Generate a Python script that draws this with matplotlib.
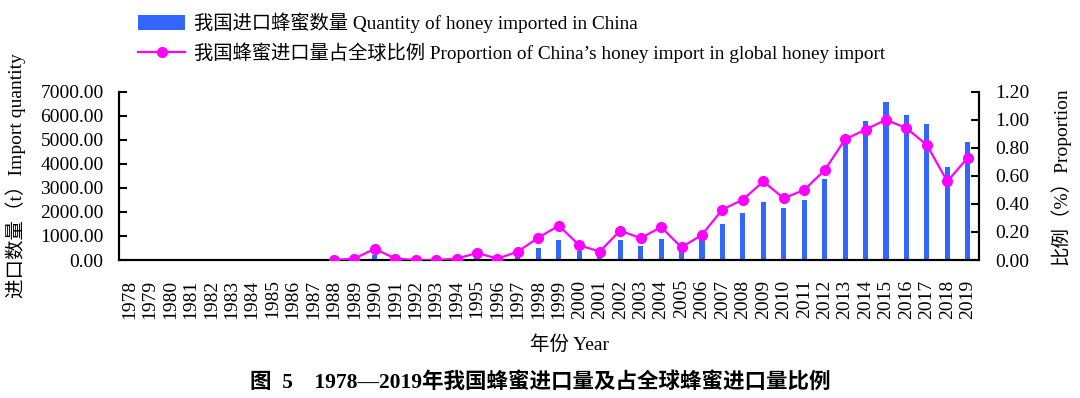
import numpy as np
import matplotlib
matplotlib.use('Agg')
import matplotlib.pyplot as plt
from matplotlib.patches import Patch
from matplotlib.lines import Line2D

years = list(range(1978, 2020))
# import quantity (t)
quantity = [0, 0, 0, 0, 0, 0, 0, 0, 0, 0,
            0, 0, 220, 0, 0, 0, 0, 140, 0, 220,
            520, 820, 360, 260, 820, 600, 890, 360, 820, 1500,
            1960, 2400, 2180, 2500, 3390, 4860, 5800, 6570, 6040, 5670,
            3850, 4900]
# share of global honey import (%), starts in 1988
prop_years = list(range(1988, 2020))
proportion = [0.0, 0.01, 0.08, 0.01, 0.0, 0.0, 0.01, 0.05, 0.01, 0.06,
              0.16, 0.245, 0.105, 0.06, 0.21, 0.155, 0.235, 0.09, 0.18, 0.36,
              0.43, 0.56, 0.44, 0.50, 0.64, 0.86, 0.93, 1.00, 0.94, 0.82,
              0.56, 0.73]

plt.rcParams['font.family'] = ['Liberation Serif', 'Noto Sans CJK SC']
plt.rcParams['axes.unicode_minus'] = False

BAR = '#3366ff'
LINE = '#ff00ff'

fig = plt.figure(figsize=(10.8, 3.98), dpi=100)
ax = fig.add_axes([0.110, 0.3467, 0.7965, 0.4229])
ax2 = ax.twinx()

x = np.arange(len(years))
ax.bar(x, quantity, width=0.25, color=BAR, zorder=2)
px = [years.index(y) for y in prop_years]
ax2.plot(px, proportion, color=LINE, linewidth=1.6, marker='o', markersize=7, zorder=3)

ax.set_xlim(-0.52, 41.55)
ax.set_ylim(0, 7000)
ax2.set_ylim(0, 1.2)
ax.set_yticks(np.arange(0, 7001, 1000))
ax.set_yticklabels([f'{v:.2f}' for v in np.arange(0, 7001, 1000)])
ax2.set_yticks(np.arange(0, 1.21, 0.2))
ax2.set_yticklabels([f'{v:.2f}' for v in np.arange(0, 1.21, 0.2)])
ax.set_xticks(x)
ax.set_xticklabels([str(y) for y in years], rotation=90)

ax.set_zorder(ax2.get_zorder() - 1)
ax.patch.set_visible(False)

for a in (ax, ax2):
    a.spines['top'].set_visible(False)
    for s in a.spines.values():
        s.set_linewidth(1.5)
ax.tick_params(axis='x', length=0, pad=14, labelsize=14)
ax.tick_params(axis='y', direction='in', length=6, width=1.5, pad=11, labelsize=14)
ax2.tick_params(axis='y', direction='in', length=6, width=1.5, pad=12, labelsize=14)

ax.set_ylabel('进口数量（t）Import quantity', fontsize=14, labelpad=10)
ax2.set_ylabel('比例（%）Proportion', fontsize=14, labelpad=14, rotation=90)
ax.set_xlabel('年份 Year', fontsize=14)
ax.xaxis.set_label_coords(0.524, -0.45)

handles = [Patch(facecolor=BAR, edgecolor='none'),
           Line2D([], [], color=LINE, linewidth=1.6, marker='o', markersize=7)]
labels = ['我国进口蜂蜜数量 Quantity of honey imported in China',
          '我国蜂蜜进口量占全球比例 Proportion of China’s honey import in global honey import']
fig.legend(handles, labels, loc='upper left', bbox_to_anchor=(0.112, 1.012),
           frameon=False, fontsize=13.9, handlelength=2.4, handleheight=0.8,
           labelspacing=0.5, handletextpad=0.5)

fig.text(0.5, 0.04, '图  5    1978—2019年我国蜂蜜进口量及占全球蜂蜜进口量比例',
         ha='center', va='center', fontsize=15.5, fontweight='bold')

fig.savefig('out.png', dpi=100)
